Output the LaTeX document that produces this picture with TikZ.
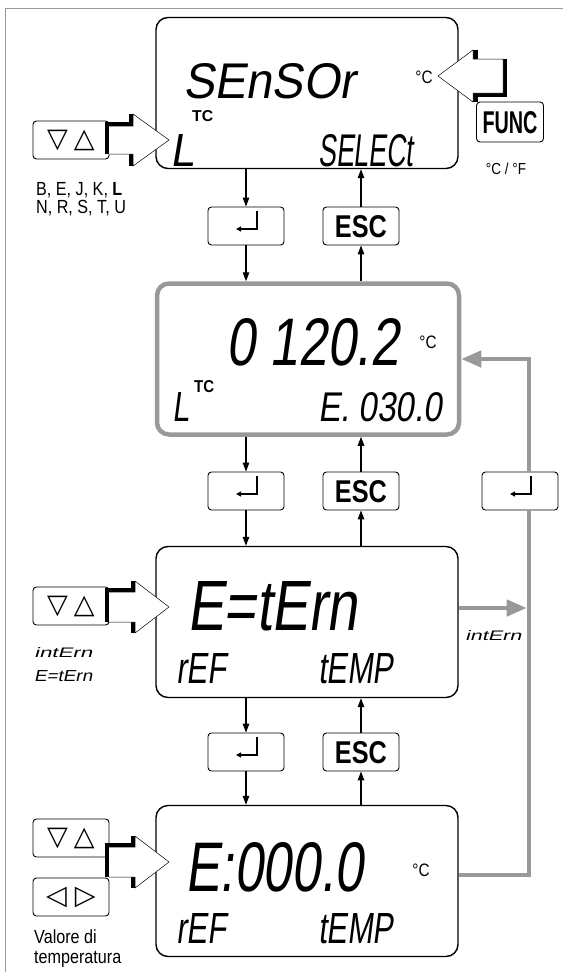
\documentclass[tikz,border=0pt]{standalone}
\usepackage{fontspec}
\usepackage{graphicx}
\usetikzlibrary{arrows.meta,calc}
\setmainfont{Liberation Sans}
\newfontfamily\labf{Liberation Sans}[FakeStretch=0.85]
\newfontfamily\lcdf{Liberation Sans}[FakeSlant=0.18]
\newfontfamily\symf{DejaVu Sans}
\definecolor{lgray}{gray}{0.6}
\newcommand{\lcd}[3]{\raisebox{0pt}[#2pt][0pt]{\resizebox{#1pt}{#2pt}{\lcdf #3}}}
\newcommand{\keytext}[3]{\raisebox{0pt}[#2pt][0pt]{\resizebox{#1pt}{#2pt}{\bfseries #3}}}
% hollow arrow pointing right: x0, cy, head base, tip, shaft half
\newcommand{\harrR}[5]{%
 \fill (#1-4,#2-#5-4) rectangle (#3,#2-#5);
 \fill (#1-4,#2-#5-4) rectangle (#1,#2+#5);
 \fill (#3-4.5,#2-26) rectangle (#3,#2-#5);
 \fill (#3-4.5,#2+#5) rectangle (#3,#2+26);
 \filldraw[fill=white, line width=0.5pt, line join=miter] (#1,#2-#5) -- (#3,#2-#5) -- (#3,#2-26) -- (#4,#2) -- (#3,#2+26) -- (#3,#2+#5) -- (#1,#2+#5);
}
% hollow arrow pointing left
\newcommand{\harrL}[5]{%
 \fill (#3,#2+#5) rectangle (#1+4,#2+#5+4);
 \fill (#1,#2-#5) rectangle (#1+4,#2+#5+4);
 \fill (#3,#2-26) rectangle (#3+4.5,#2-#5);
 \fill (#3,#2+#5) rectangle (#3+4.5,#2+26);
 \filldraw[fill=white, line width=0.5pt, line join=miter] (#1,#2-#5) -- (#3,#2-#5) -- (#3,#2-26) -- (#4,#2) -- (#3,#2+26) -- (#3,#2+#5) -- (#1,#2+#5) -- cycle;
}
\tikzset{
 lcdbox/.style={draw, line width=1.4pt, rounded corners=12pt, minimum width=302pt, minimum height=151pt, inner sep=0pt},
 key/.style={draw, line width=0.9pt, rounded corners=3.5pt, minimum width=76pt, minimum height=38pt, inner sep=0pt},
 flow/.style={line width=1.2pt, -{Triangle[length=9pt,width=6.5pt]}},
 gline/.style={draw=lgray, line width=4.5pt},
 garrow/.style={-{Triangle[length=20pt,width=16pt]}},
 txt/.style={inner sep=0pt, anchor=base west},
 lab/.style={inner sep=0pt, anchor=base west, font=\labf\fontsize{19}{22}\selectfont},
 unit/.style={inner sep=0pt, font=\labf\fontsize{18}{20}\selectfont},
 symk/.style={font=\symf\fontsize{27}{27}\selectfont},
}
\begin{document}
\begin{tikzpicture}[x=1pt,y=-1pt]
\useasboundingbox (0,0) rectangle (563,972);
\draw[lgray, line width=1pt] (5,972) -- (5,8) -- (563,8);

% displays
\node[lcdbox] (b1) at (307,93) {};
\node[lcdbox, draw=lgray, line width=4.5pt] (b2) at (308,359) {};
\node[lcdbox] (b3) at (307,622) {};
\node[lcdbox] (b4) at (307,881) {};

% keys
\node[key] (e1) at (246,226) {};
\node[key] (s1) at (361,226) {\keytext{52}{22}{ESC}};
\node[key] (e2) at (246,491) {};
\node[key] (s2) at (361,491) {\keytext{52}{22}{ESC}};
\node[key] (r2) at (520,491) {};
\node[key] (e3) at (246,752) {};
\node[key] (s3) at (361,752) {\keytext{52}{22}{ESC}};
\node[key, minimum width=67pt, minimum height=40pt] (func) at (510,122) {\keytext{55}{22}{FUNC}};
\node[key, symk] (ud1) at (71,140) {▽\hspace{6pt}△};
\node[key, symk] (ud3) at (71,606) {▽\hspace{6pt}△};
\node[key, symk] (ud4) at (71,838) {▽\hspace{6pt}△};
\node[key, symk] (lr4) at (71,897) {◁\hspace{8pt}▷};

% return symbols
\foreach \k in {e1,e2,e3,r2}
  \draw[line width=1.2pt, -{Triangle[length=5pt,width=5pt]}] ([shift={(11,-15)}]\k.center) -- ([shift={(11,3)}]\k.center) -- ([shift={(-10,3)}]\k.center);

% flow arrows
\draw[flow] (b1.south -| e1) -- (e1.north);
\draw[flow] (s1.north) -- (b1.south -| s1);
\draw[flow] (e1.south) -- (b2.north -| e1);
\draw[flow] (b2.north -| s1) -- (s1.south);
\draw[flow] (b2.south -| e2) -- (e2.north);
\draw[flow] (s2.north) -- (b2.south -| s2);
\draw[flow] (e2.south) -- (b3.north -| e2);
\draw[flow] (b3.north -| s2) -- (s2.south);
\draw[flow] (b3.south -| e3) -- (e3.north);
\draw[flow] (s3.north) -- (b3.south -| s3);
\draw[flow] (e3.south) -- (b4.north -| e3);
\draw[flow] (b4.north -| s3) -- (s3.south);

% gray return path
\coordinate (gt) at ([xshift=9pt]r2.north);
\coordinate (gb) at ([xshift=9pt]r2.south);
\coordinate (j3) at (529,608);
\coordinate (j4) at (529,875);
\draw[gline, garrow] (gt) |- (b2.east);
\draw[gline, garrow, shorten >=2.3pt] (b3.east |- j3) -- (j3);
\draw[gline] (gb) -- (j4) -- (b4.east |- j4);

% hollow arrows
\harrR{109}{140}{133}{169}{14}
\harrR{109}{607}{135}{169}{15}
\harrR{109}{862}{135}{169}{15}
\harrL{503}{76}{473}{438}{17}

% display 1
\node[txt] (t1a) at (183,98) {\lcd{172}{35}{SEnSOr}};
\node[unit] (t1u) at (424,77) {°C};
\node[txt] (t1tc) at (192,121) {\keytext{21}{11}{TC}};
\node[txt] (t1l) at (170,166) {\lcd{24}{32}{L}};
\node[txt] (t1s) at (318,166) {\lcd{95}{32}{SELECt}};

% display 2
\node[txt] (t2a) at (226,365) {\lcd{173}{47}{0 120.2}};
\node[unit] (t2u) at (428,342) {°C};
\node[txt] (t2l) at (172,421) {\lcd{17}{29}{L}};
\node[txt] (t2tc) at (194,392) {\keytext{20}{12}{TC}};
\node[txt] (t2e) at (318,421) {\lcd{124}{29}{E. 030.0}};

% display 3
\node[txt] (t3a) at (187,630) {\lcd{170}{49}{E=tErn}};
\node[txt] (t3r) at (176,683) {\lcd{50}{30}{rEF}};
\node[txt] (t3t) at (318,683) {\lcd{75}{30}{tEMP}};

% display 4
\node[txt] (t4a) at (185,891) {\lcd{178}{49}{E:000.0}};
\node[unit] (t4u) at (421,870) {°C};
\node[txt] (t4r) at (176,943) {\lcd{50}{30}{rEF}};
\node[txt] (t4t) at (318,943) {\lcd{75}{30}{tEMP}};

% side labels
\node[lab] (l1) at (36,195) {B, E, J, K, \textbf{L}};
\node[lab] (l2) at (36,213) {N, R, S, T, U};
\node[unit, anchor=base, font=\labf\fontsize{16}{18}\selectfont] (l3) at (506,174) {°C / °F};
\node[txt] (l4) at (34,657) {\lcd{58}{10}{intErn}};
\node[txt] (l5) at (34,681) {\lcd{58}{11}{E=tErn}};
\node[txt] (l6) at (465,640) {\lcd{56}{10}{intErn}};
\node[lab] (l7) at (34,943) {Valore di};
\node[lab] (l8) at (34,963) {temperatura};
\end{tikzpicture}
\end{document}
